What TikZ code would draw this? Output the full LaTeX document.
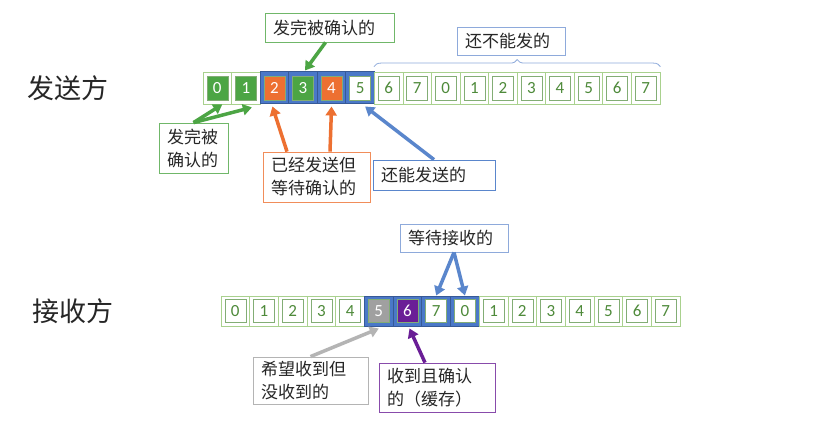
\documentclass[tikz,border=0pt]{standalone}
\usepackage{fontspec}
\setmainfont{Carlito}
\newfontfamily\cjk{Noto Sans CJK SC}
\usetikzlibrary{arrows.meta,decorations.pathreplacing}
\definecolor{lgreen}{HTML}{A9D18E}
\definecolor{dgreen}{HTML}{4E8A3A}
\definecolor{fgreen}{HTML}{4CA544}
\definecolor{forange}{HTML}{ED7031}
\definecolor{winblue}{HTML}{4A78C8}
\definecolor{ablue}{HTML}{5A86CC}
\definecolor{lblue}{HTML}{8EAADB}
\definecolor{fgray}{HTML}{A0A0A0}
\definecolor{agray}{HTML}{B4B4B4}
\definecolor{fpurple}{HTML}{6A1E96}
\definecolor{txt}{HTML}{262626}
\tikzset{
  cell/.style={draw=lgreen, fill=white, line width=0.8pt, minimum width=28.6pt, minimum height=32pt, inner sep=0pt},
  win/.style={cell, draw=winblue!75!black, fill=winblue, line width=1pt},
  core/.style={draw=dgreen!70, fill=white, line width=0.6pt, minimum width=21pt, minimum height=24pt, inner sep=0pt, font=\fontsize{17}{17}\selectfont},
  free/.style={core, text=dgreen},
  done/.style={core, fill=fgreen, text=white},
  sent/.style={core, fill=forange, text=white},
  lost/.style={core, fill=fgray, text=white},
  kept/.style={core, fill=fpurple, text=white},
  tag/.style={draw, line width=0.8pt, fill=white, text=txt, align=left, inner xsep=8pt, inner ysep=0pt, font=\cjk\fontsize{17}{23}\selectfont},
  pointer/.style={line width=3.5pt, -{Triangle[length=9pt,width=11pt]}}
}
\begin{document}
\begin{tikzpicture}[x=1pt, y=-1pt]
  \useasboundingbox[fill=white] (0,0) rectangle (833,422);
  \node[text=txt, font=\cjk\fontsize{27}{27}\selectfont] (send) at (68,88) {发送方};
  \node[text=txt, font=\cjk\fontsize{27}{27}\selectfont] (recv) at (73,311) {接收方};
  % sender row
  \foreach \i/\o/\k in {0/cell/done,1/cell/done,2/win/sent,3/win/done,4/win/sent,5/win/free,6/cell/free,7/cell/free,
      8/cell/free,9/cell/free,10/cell/free,11/cell/free,12/cell/free,13/cell/free,14/cell/free,15/cell/free} {
    \pgfmathtruncatemacro\n{mod(\i,8)}
    \node[\o] (s\i) at (217.3+28.56*\i, 88) {};
    \node[\k] (sc\i) at (s\i) {\n};
  }
  % receiver row
  \begin{scope}[cell/.append style={minimum height=30pt}, core/.append style={minimum height=23pt}]
  \foreach \i/\o/\k in {0/cell/free,1/cell/free,2/cell/free,3/cell/free,4/cell/free,5/win/lost,6/win/kept,7/win/free,
      8/win/free,9/cell/free,10/cell/free,11/cell/free,12/cell/free,13/cell/free,14/cell/free,15/cell/free} {
    \pgfmathtruncatemacro\n{mod(\i,8)}
    \node[\o] (r\i) at (235.3+28.7*\i, 311) {};
    \node[\k] (rc\i) at (r\i) {\n};
  }
  \end{scope}
  % sender labels
  \node[tag, draw=fgreen!80, text width=113pt, minimum height=29pt] (tA) at (329.5,27.5) {发完被确认的};
  \node[tag, draw=lblue, text width=92pt, minimum height=28pt] (tB) at (511,41) {还不能发的};
  \node[tag, draw=fgreen!80, text width=53pt, minimum height=50pt] (tC) at (193.5,148) {发完被\\确认的};
  \node[tag, draw=forange!80, text width=91pt, minimum height=50pt] (tD) at (316.5,177) {已经发送但\\等待确认的};
  \node[tag, draw=ablue, text width=106pt, minimum height=30pt] (tE) at (434,175) {还能发送的};
  \draw[decorate, decoration={brace, amplitude=7pt}, draw=lblue, line width=0.8pt]
    ([yshift=5pt]s6.north west) -- ([yshift=5pt]s15.north east);
  \draw[pointer, draw=fgreen] ([xshift=-4pt]tA.south) -- ([xshift=2pt,yshift=1pt]s3.north);
  \draw[pointer, draw=fgreen] (tC.north) -- ([xshift=5pt]s0.south);
  \draw[pointer, draw=fgreen] (tC.north) -- ([xshift=6pt,yshift=-3pt]s1.south);
  \draw[pointer, draw=forange] ([xshift=-29.5pt]tD.north) -- ([xshift=-2pt,yshift=-2pt]s2.south);
  \draw[pointer, draw=forange] ([xshift=13.5pt]tD.north) -- ([yshift=-2pt]s4.south);
  \draw[pointer, draw=ablue] (tE.north) -- ([xshift=5pt,yshift=-2pt]s5.south);
  % receiver labels
  \node[tag, draw=lblue, text width=92pt, minimum height=28pt] (rA) at (454,238) {等待接收的};
  \node[tag, draw=agray, text width=99pt, minimum height=47pt] (rB) at (310.5,380.5) {希望收到但\\没收到的};
  \node[tag, draw=fpurple!80, text width=100pt, minimum height=49pt] (rC) at (437,387.5) {收到且确认\\的（缓存）};
  \draw[pointer, draw=ablue] (rA.south) -- (r7.north);
  \draw[pointer, draw=ablue] (rA.south) -- (r8.north);
  \draw[pointer, draw=agray] (rB.north) -- ([yshift=-2pt]r5.south);
  \draw[pointer, draw=fpurple] ([xshift=-12pt]rC.north) -- ([xshift=2pt,yshift=-2pt]r6.south);
\end{tikzpicture}
\end{document}
